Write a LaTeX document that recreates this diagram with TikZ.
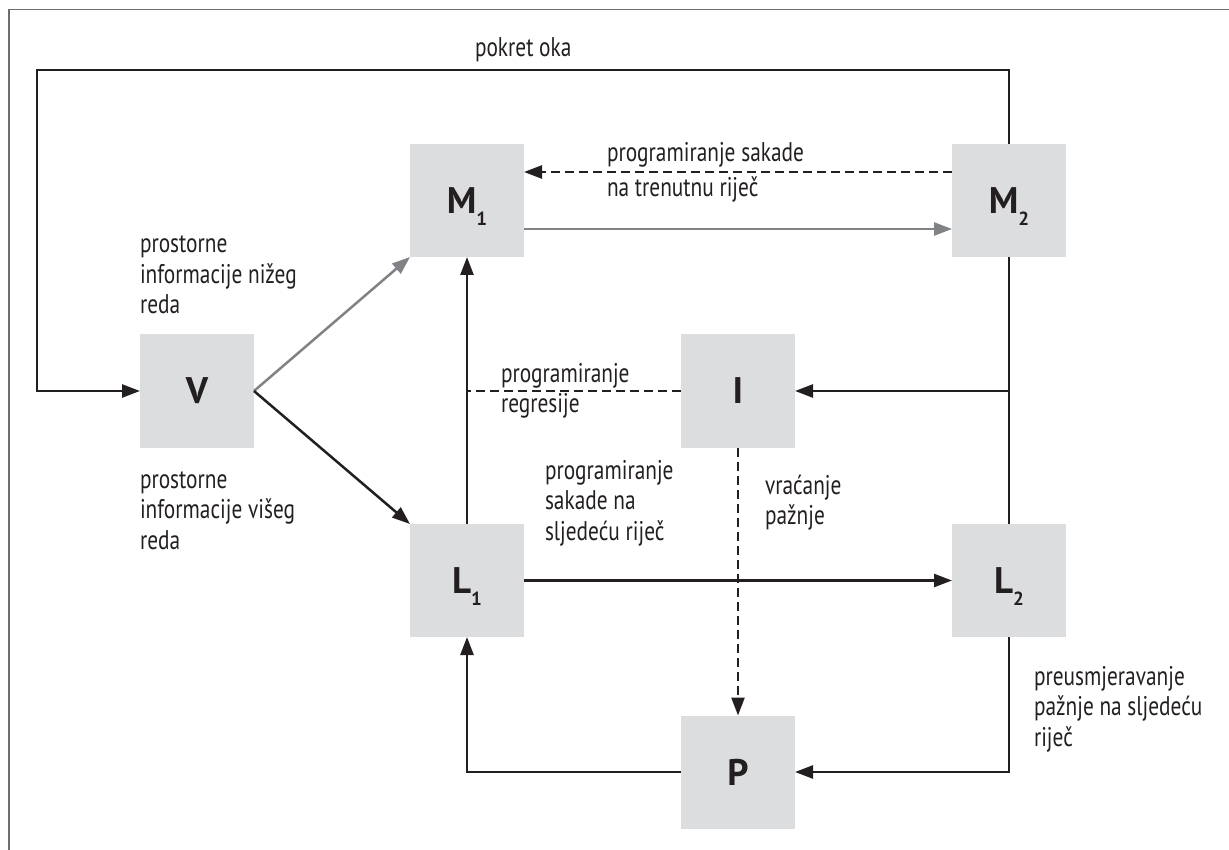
\documentclass[tikz,border=0pt]{standalone}
\usepackage{fontspec}
\setmainfont{PT Sans}
\newfontfamily\lblfam{PT Sans}[FakeStretch=0.79]
\usetikzlibrary{arrows.meta}
\definecolor{ink}{HTML}{231F20}
\definecolor{grayline}{HTML}{808285}
\definecolor{boxfill}{HTML}{DCDDDF}
\definecolor{framec}{HTML}{6D6E71}
\newcommand\boxsub[1]{\smash{\raisebox{-12pt}{\fontsize{19}{19}\selectfont\bfseries #1}}}
\begin{document}
\begin{tikzpicture}[x=1pt,y=-1pt,
  blk/.style={draw=ink, line width=2.5pt},
  gry/.style={draw=grayline, line width=2.5pt},
  tipk/.style={-{Triangle[length=18pt,width=13pt]}},
  dsh/.style={dash pattern=on 9pt off 5pt},
  box/.style={fill=boxfill, minimum width=114pt, minimum height=113pt, inner sep=0pt, outer sep=0pt, font=\fontsize{37}{37}\selectfont\bfseries, text=ink},
  lbl/.style={inner sep=0pt, outer sep=0pt, anchor=north west, align=left, text=ink, font=\lblfam\fontsize{27}{30.5}\selectfont}]
\useasboundingbox (0,0) rectangle (1229,850);
\draw[framec, line width=1.3pt] (9,850) -- (9,9.5) -- (1229,9.5);

\node[box] (M1) at (467,200.5) {M\boxsub{1}};
\node[box] (M2) at (1009,200.5) {M\boxsub{2}};
\node[box] (V) at (197,391) {V};
\node[box] (I) at (738,391) {I};
\node[box] (L1) at (467,580.5) {L\boxsub{1}};
\node[box] (L2) at (1009,580.5) {L\boxsub{2}};
\node[box] (P) at (738,772) {P};

\coordinate (topR) at (1009,70);
\coordinate (topL) at (37,70);
\coordinate (yd) at (0,172);
\coordinate (yg) at (0,229);

\draw[blk,tipk] (M2.north) -- (topR) -- (topL) |- (V.west);
\draw[blk,dsh,tipk] (M2.west |- yd) -- (M1.east |- yd);
\draw[gry,tipk] (M1.east |- yg) -- (M2.west |- yg);
\draw[gry,tipk] (V.east) -- (M1.south west);
\draw[blk,tipk] (V.east) -- (L1.north west);
\draw[blk,tipk] (L1.north) -- (M1.south);
\draw[blk,dsh] (I.west) -- (L1.north |- I.west);
\draw[blk] (M2.south) -- (L2.north);
\draw[blk,tipk] (M2.south |- I.east) -- (I.east);
\draw[blk,tipk] (L1.east) -- (L2.west);
\draw[blk,dsh,tipk] (I.south) -- (P.north);
\draw[blk,tipk] (L2.south) |- (P.east);
\draw[blk,tipk] (P.west) -| (L1.south);

\node[lbl] (tpokret) at (475,33) {\rule{0pt}{24pt}pokret oka};
\node[lbl, font=\lblfam\fontsize{27}{35}\selectfont] (tsakade) at (607,138) {\rule{0pt}{24pt}programiranje sakade\\na trenutnu riječ};
\node[lbl] (tnizeg) at (140,229) {\rule{0pt}{24pt}prostorne\\informacije nižeg\\reda};
\node[lbl] (tregr) at (501,358) {\rule{0pt}{24pt}programiranje\\regresije};
\node[lbl] (tviseg) at (140,464) {\rule{0pt}{24pt}prostorne\\informacije višeg\\reda};
\node[lbl] (tsljed) at (545,455) {\rule{0pt}{24pt}programiranje\\sakade na\\sljedeću riječ};
\node[lbl] (tvrac) at (765,470) {\rule{0pt}{24pt}vraćanje\\pažnje};
\node[lbl] (tpreus) at (1034,661) {\rule{0pt}{24pt}preusmjeravanje\\pažnje na sljedeću\\riječ};
\end{tikzpicture}
\end{document}
